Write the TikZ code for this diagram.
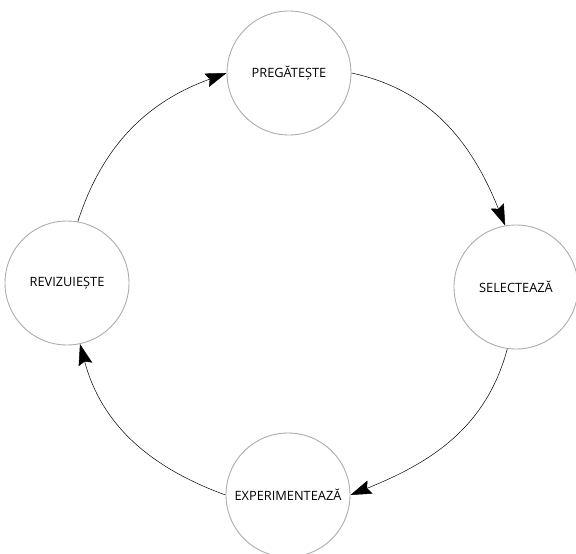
\documentclass[tikz,border=0pt]{standalone}
\usepackage{fontspec}
\setmainfont{Open Sans}
\usetikzlibrary{arrows.meta}

\begin{document}
\begin{tikzpicture}[x=1pt,y=-1pt,
  main_node/.style={circle,draw=gray!65,line width=0.9pt,minimum size=124pt,inner sep=0pt,font=\fontsize{12.8}{15}\selectfont},
  main_arrow/.style={-{Stealth[length=21pt,width=14pt,inset=3pt]},line width=0.5pt}]

    \useasboundingbox (0,0) rectangle (576,554);

    \node[main_node] (prep) at (289, 73) {PREGĂTEȘTE};
    \node[main_node] (sel) at (516, 287) {SELECTEAZĂ};
    \node[main_node] (exp) at (288, 495) {EXPERIMENTEAZĂ};
    \node[main_node] (rev) at (67, 283) {REVIZUIEȘTE};

    \draw[main_arrow] (prep.east) to[out=-12, in=112] (sel.100);
    \draw[main_arrow] (sel.262) to[out=-105, in=22] (exp.east);
    \draw[main_arrow] (exp.west) to[out=160, in=-75] (rev.282);
    \draw[main_arrow] (rev.80) to[out=72, in=200] (prep.west);
\end{tikzpicture}
\end{document}
